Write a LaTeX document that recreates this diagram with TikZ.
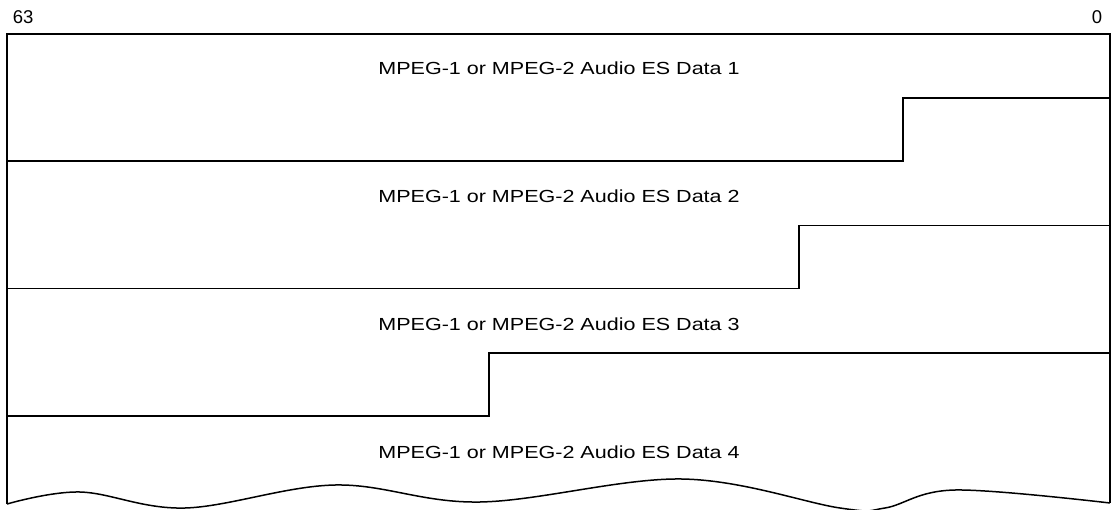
\documentclass[tikz,border=0pt]{standalone}
\usepackage{fontspec}
\setmainfont{Liberation Sans}
\newfontfamily\blockfont[FakeStretch=1.23]{Liberation Sans}
\begin{document}
\begin{tikzpicture}[x=1pt, y=-1pt, line width=1.5pt]
  \useasboundingbox (0,0) rectangle (1115,510);
  % bit numbers
  \node[anchor=base west, inner sep=0pt, font=\fontsize{18.5}{22}\selectfont] (msb) at (12,24) {63};
  \node[anchor=base east, inner sep=0pt, font=\fontsize{18.5}{22}\selectfont] (lsb) at (1103,24) {0};
  % outer frame
  \draw (7,504) -- (7,34) -- (1110,34) -- (1110,503);
  % stepped boundaries between the data blocks
  \foreach \i/\sx in {0/903,1/799,2/489}{
    \draw (7,161+127.5*\i) -- (\sx,161+127.5*\i) -- (\sx,98+127.5*\i) -- (1110,98+127.5*\i);
  }
  % block labels
  \foreach \i in {1,...,4}{
    \node[font=\blockfont\fontsize{17.5}{21}\selectfont] (data\i) at (559,68+128*\i-128) {MPEG-1 or MPEG-2 Audio ES Data \i};
  }
  % torn bottom edge
  \draw plot[smooth, tension=0.6] coordinates {(7,504) (80,492) (185,508) (335,485) (480,502) (682,479) (840,508) (885,508) (955,490) (1110,503)};
\end{tikzpicture}
\end{document}
